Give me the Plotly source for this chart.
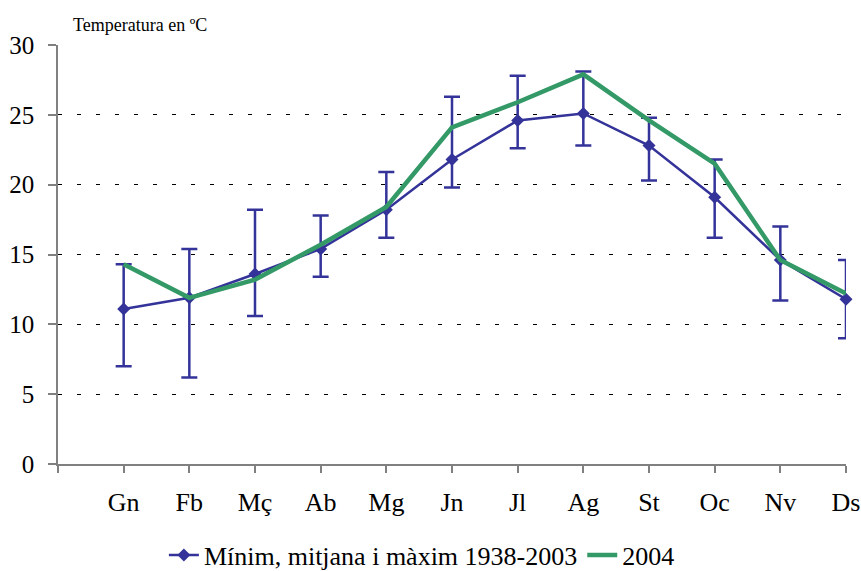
import plotly.graph_objects as go

months = ["Gn", "Fb", "Mç", "Ab", "Mg", "Jn", "Jl", "Ag", "St", "Oc", "Nv", "Ds"]
mean_1938_2003 = [11.1, 11.9, 13.6, 15.4, 18.2, 21.8, 24.6, 25.1, 22.8, 19.1, 14.6, 11.8]
min_1938_2003 = [7.0, 6.2, 10.6, 13.4, 16.2, 19.8, 22.6, 22.8, 20.3, 16.2, 11.7, 9.0]
max_1938_2003 = [14.3, 15.4, 18.2, 17.8, 20.9, 26.3, 27.8, 28.1, 24.8, 21.8, 17.0, 14.6]
temp_2004 = [14.3, 11.9, 13.2, 15.7, 18.4, 24.1, 25.9, 27.9, 24.6, 21.5, 14.6, 12.2]

xpos = list(range(len(months)))
blue = "#333399"
green = "#339966"
font = "Liberation Serif, Times New Roman, serif"

fig = go.Figure()
fig.add_trace(go.Scatter(
    x=xpos, y=mean_1938_2003, mode="lines+markers",
    name="Mínim, mitjana i màxim 1938-2003",
    line=dict(color=blue, width=2.5),
    marker=dict(symbol="diamond", size=10, color=blue),
    cliponaxis=False,
    error_y=dict(type="data", symmetric=False,
                 array=[mx - m for mx, m in zip(max_1938_2003, mean_1938_2003)],
                 arrayminus=[m - mn for m, mn in zip(mean_1938_2003, min_1938_2003)],
                 color=blue, thickness=2.5, width=8),
))
fig.add_trace(go.Scatter(
    x=xpos, y=temp_2004, mode="lines", name="2004",
    line=dict(color=green, width=4.5),
    cliponaxis=False,
))

fig.update_layout(
    width=861, height=571,
    margin=dict(l=58, r=15, t=45, b=107),
    paper_bgcolor="white", plot_bgcolor="white",
    font=dict(family=font, size=24, color="black"),
    showlegend=True,
    legend=dict(orientation="h", x=0.49, xanchor="center", xref="container",
                y=0.028, yanchor="middle", yref="container",
                font=dict(size=26, family=font), tracegroupgap=0),
    xaxis=dict(range=[-1, 11], tickvals=list(range(-1, 12)), ticktext=[""] + months,
               automargin=False,
               showgrid=False, zeroline=False, showline=True, linecolor="#808080", linewidth=1.5,
               ticks="outside", ticklen=7, tickcolor="#808080", tickwidth=1.5,
               ticklabelstandoff=7,
               tickfont=dict(size=26, family=font)),
    yaxis=dict(range=[0, 30], tickvals=[0, 5, 10, 15, 20, 25, 30],
               automargin=False,
               showgrid=True, gridcolor="black", gridwidth=1, griddash="4px,15px",
               zeroline=False, showline=True, linecolor="#808080", linewidth=1.5,
               ticks="outside", ticklen=8, tickcolor="#808080", tickwidth=1.5,
               ticklabelstandoff=9,
               tickfont=dict(size=25, family=font)),
    annotations=[dict(text="Temperatura en ºC", xref="paper", yref="paper",
                      x=0.017, y=1.02, xanchor="left", yanchor="bottom", showarrow=False,
                      font=dict(size=18, family=font))],
)

fig.write_html("out.html", config={"displayModeBar": False},
               post_script="document.body.style.margin='0px';")
